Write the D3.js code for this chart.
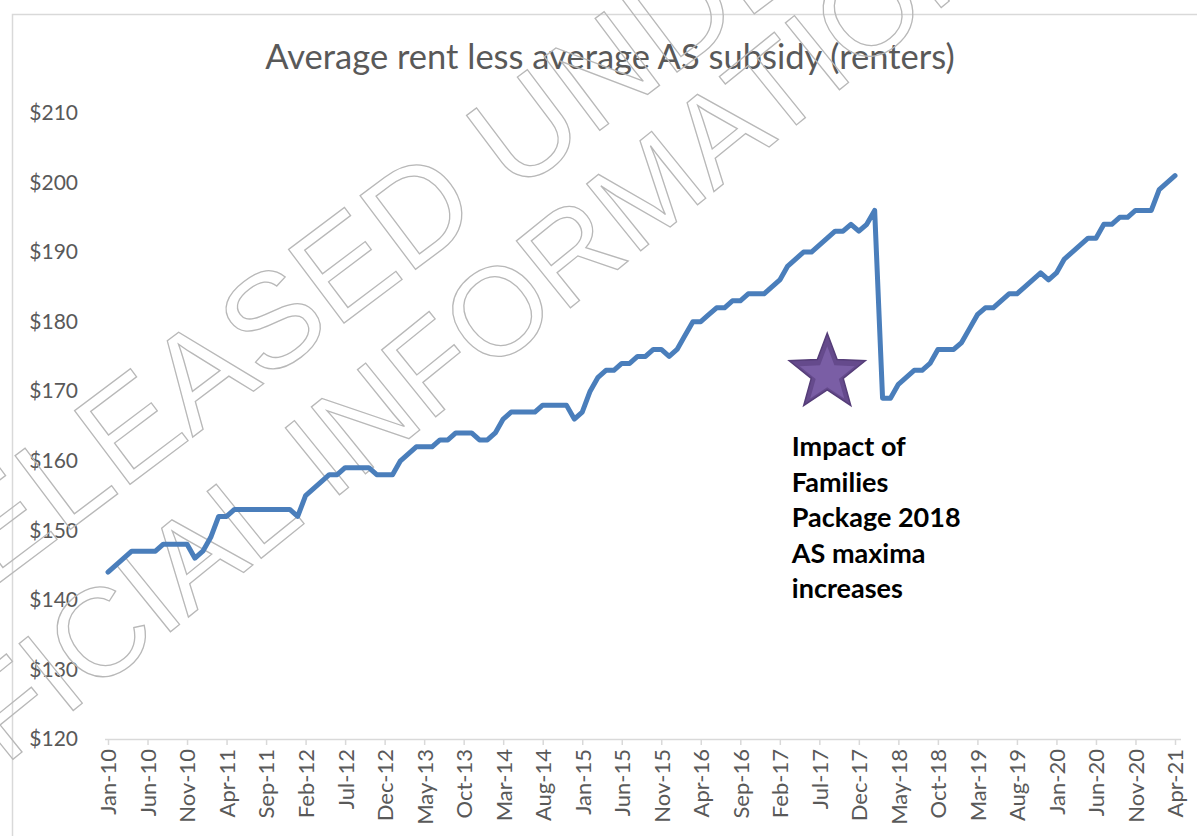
<!DOCTYPE html>
<html>
<head>
<meta charset="utf-8">
<script src="https://cdn.jsdelivr.net/npm/d3@7"></script>
<style>
  body { margin: 0; background: #fff; }
  svg { display: block; font-family: Lato, "Open Sans", sans-serif; }
</style>
</head>
<body>
<div id="chart"></div>
<script>
const title = "Average rent less average AS subsidy (renters)";

// monthly values, Jan-10 .. Apr-21
const rent = [
    144, 145, 146, 147, 147, 147, 147, 148, 148, 148, 148, 146,   // 2010
    147, 149, 152, 152, 153, 153, 153, 153, 153, 153, 153, 153,   // 2011
    152, 155, 156, 157, 158, 158, 159, 159, 159, 159, 158, 158,   // 2012
    158, 160, 161, 162, 162, 162, 163, 163, 164, 164, 164, 163,   // 2013
    163, 164, 166, 167, 167, 167, 167, 168, 168, 168, 168, 166,   // 2014
    167, 170, 172, 173, 173, 174, 174, 175, 175, 176, 176, 175,   // 2015
    176, 178, 180, 180, 181, 182, 182, 183, 183, 184, 184, 184,   // 2016
    185, 186, 188, 189, 190, 190, 191, 192, 193, 193, 194, 193,   // 2017
    194, 196, 169, 169, 171, 172, 173, 173, 174, 176, 176, 176,   // 2018
    177, 179, 181, 182, 182, 183, 184, 184, 185, 186, 187, 186,   // 2019
    187, 189, 190, 191, 192, 192, 194, 194, 195, 195, 196, 196,   // 2020
    196, 199, 200, 201                                            // 2021
];

const firstMonth = new Date(2010, 0, 1);
const months = d3.timeMonth.range(firstMonth, d3.timeMonth.offset(firstMonth, rent.length));

const tickLabels = ["Jan-10", "Jun-10", "Nov-10", "Apr-11", "Sep-11", "Feb-12", "Jul-12",
    "Dec-12", "May-13", "Oct-13", "Mar-14", "Aug-14", "Jan-15", "Jun-15", "Nov-15", "Apr-16",
    "Sep-16", "Feb-17", "Jul-17", "Dec-17", "May-18", "Oct-18", "Mar-19", "Aug-19", "Jan-20",
    "Jun-20", "Nov-20", "Apr-21"];
const yTicks = [120, 130, 140, 150, 160, 170, 180, 190, 200, 210];

const note = ["Impact of", "Families", "Package 2018", "AS maxima", "increases"];
const noteMonth = "Feb-17";
const starMonth = "Aug-17";
const starValue = 172.6;

const watermark = ["RELEASED UNDER THE", "OFFICIAL INFORMATION ACT"];

const width = 1197, height = 836;
const margin = { top: 113, right: 22, bottom: 97, left: 108 };

const fmt = d3.timeFormat("%b-%y");
const data = rent.map((v, i) => ({ label: fmt(months[i]), value: v }));

const svg = d3.select("#chart")
    .append("svg")
    .attr("width", width)
    .attr("height", height);

// chart area border
svg.append("rect")
    .attr("x", 12.5)
    .attr("y", 14.5)
    .attr("width", 1200)
    .attr("height", 840)
    .attr("fill", "#fff")
    .attr("stroke", "#d9d9d9")
    .attr("stroke-width", 1.5);

const xScale = d3.scalePoint()
    .domain(data.map(d => d.label))
    .range([margin.left, width - margin.right]);

const yScale = d3.scaleLinear()
    .domain([120, 210])
    .range([height - margin.bottom, margin.top]);

svg.append("text")
    .attr("x", 610)
    .attr("y", 69)
    .attr("text-anchor", "middle")
    .attr("font-size", 34.5)
    .attr("fill", "#595959")
    .text(title);

// y axis: labels only
const yAxis = svg.append("g")
    .attr("transform", `translate(${margin.left - 30},0)`)
    .call(d3.axisLeft(yScale).tickValues(yTicks).tickSize(0).tickFormat(d => "$" + d));
yAxis.select(".domain").remove();
yAxis.selectAll("text")
    .attr("x", 0)
    .attr("font-size", 21)
    .attr("font-family", "Lato, sans-serif")
    .attr("fill", "#595959");

// x axis
const xAxis = svg.append("g")
    .attr("transform", `translate(0,${height - margin.bottom})`)
    .call(d3.axisBottom(xScale).tickValues(tickLabels).tickSizeInner(6).tickSizeOuter(0));
xAxis.select(".domain")
    .attr("d", `M${margin.left - 3},0.5H${width - margin.right + 6}`)
    .attr("stroke", "#d9d9d9")
    .attr("stroke-width", 1.5);
xAxis.selectAll(".tick line")
    .attr("stroke", "#d9d9d9")
    .attr("stroke-width", 1.5);
xAxis.selectAll(".tick text")
    .attr("transform", "rotate(-90)")
    .attr("x", -10)
    .attr("y", 0)
    .attr("dy", "0.36em")
    .attr("text-anchor", "end")
    .attr("font-size", 22)
    .attr("font-family", "Lato, sans-serif")
    .attr("fill", "#595959");

// watermark
const wm = svg.append("g")
    .attr("fill", "none")
    .attr("stroke", "#b8b8b8")
    .attr("stroke-width", 1.3)
    .attr("font-family", "Liberation Sans, Arial, sans-serif");
wm.append("text")
    .attr("font-size", 134)
    .attr("transform", "translate(-87,648) rotate(-37)")
    .text(watermark[0]);
wm.append("text")
    .attr("font-size", 125)
    .attr("transform", "translate(-130,875) rotate(-39)")
    .text(watermark[1]);

// line
const line = d3.line()
    .x(d => xScale(d.label))
    .y(d => yScale(d.value));

svg.append("path")
    .datum(data)
    .attr("fill", "none")
    .attr("stroke", "#4a7ebb")
    .attr("stroke-width", 5)
    .attr("stroke-linejoin", "round")
    .attr("stroke-linecap", "round")
    .attr("d", line);

// star marker
function starPoints(cx, cy, r, ratio) {
    const pts = [];
    for (let k = 0; k < 10; k++) {
        const rr = k % 2 === 0 ? r : r * ratio;
        const a = -Math.PI / 2 + k * Math.PI / 5;
        pts.push([cx + rr * Math.cos(a), cy + rr * Math.sin(a)]);
    }
    return pts.map(p => p.join(",")).join(" ");
}
const sx = xScale(starMonth), sy = yScale(starValue);
svg.append("polygon")
    .attr("points", starPoints(sx, sy, 40, 0.42))
    .attr("fill", "#654a8c")
    .attr("stroke", "#553d78")
    .attr("stroke-width", 1.5);
svg.append("polygon")
    .attr("points", starPoints(sx, sy + 2, 29, 0.42))
    .attr("fill", "#7a5ea5");

// annotation
const nt = svg.append("text")
    .attr("y", 456)
    .attr("font-size", 27)
    .attr("font-weight", "bold")
    .attr("fill", "#000");
nt.selectAll("tspan")
    .data(note)
    .enter()
    .append("tspan")
    .attr("x", xScale(noteMonth) + 12)
    .attr("dy", (d, i) => i === 0 ? 0 : 35.5)
    .text(d => d);
</script>
</body>
</html>
